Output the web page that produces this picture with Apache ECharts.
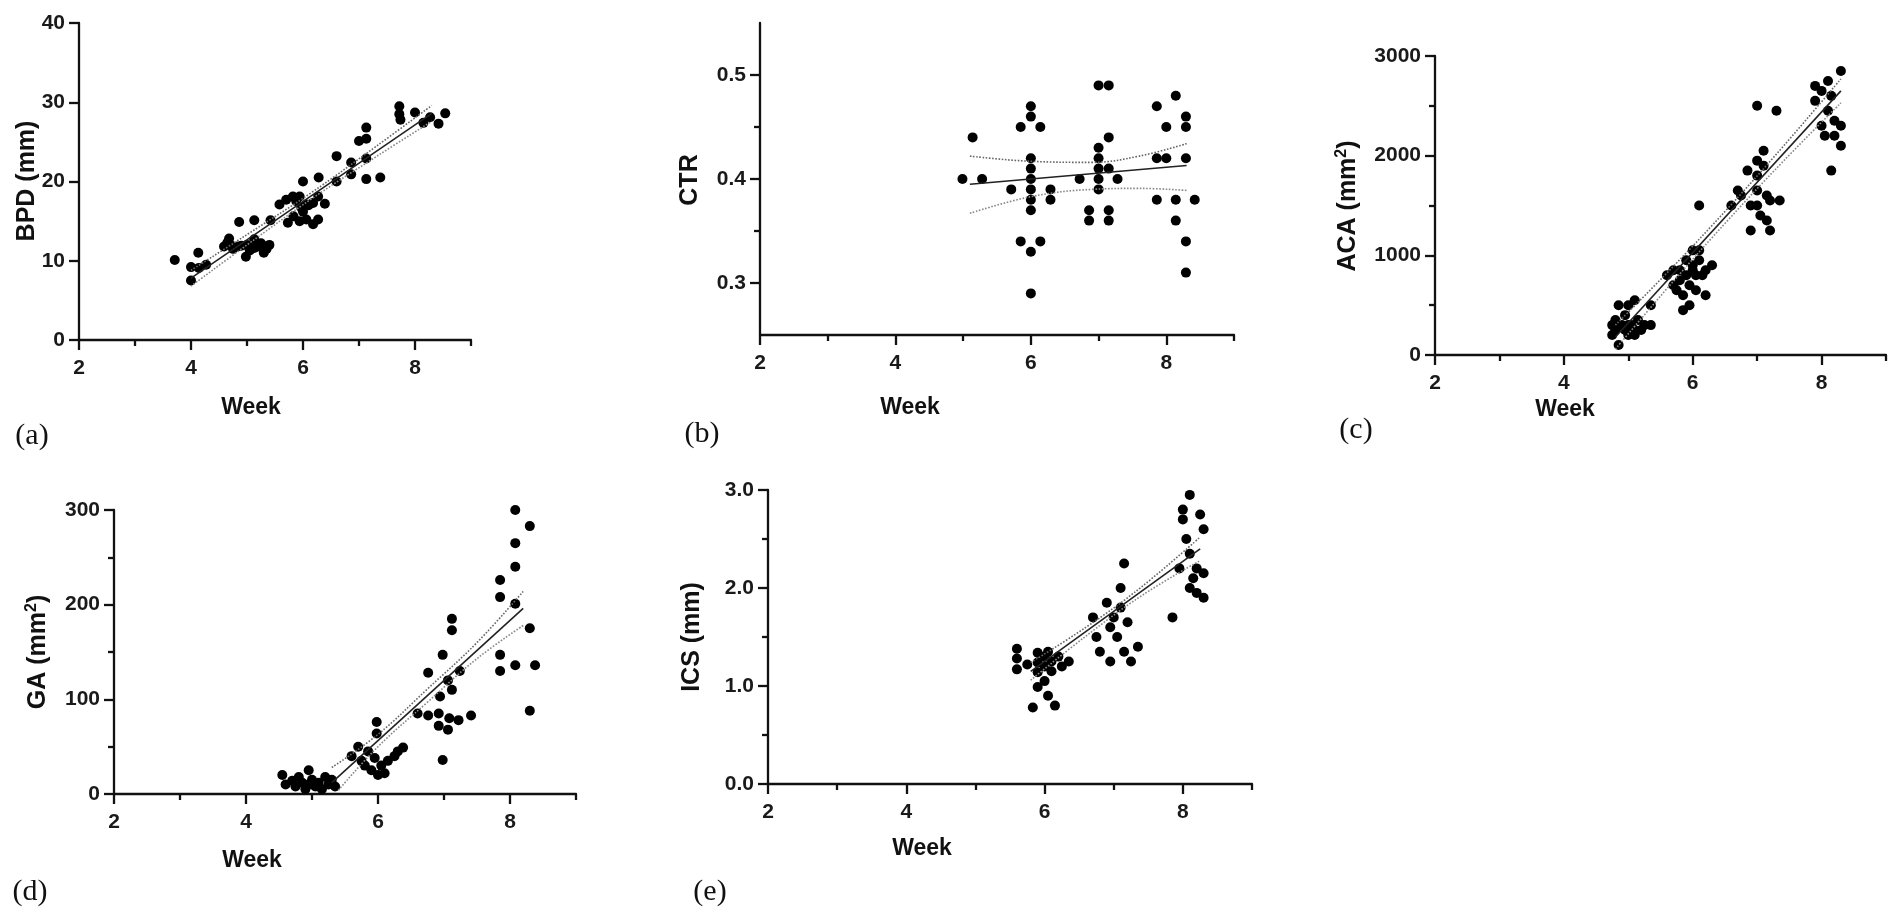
<!DOCTYPE html>
<html><head><meta charset="utf-8">
<script src="https://cdn.jsdelivr.net/npm/echarts@6/dist/echarts.min.js"></script>
<style>html,body{margin:0;padding:0;background:#fff}#c{width:1902px;height:920px}</style>
</head><body><div id="c"></div>
<script>
// ---------- DATA ----------
const weekTicks = [2, 4, 6, 8];
const weekMinorTicks = [3, 5, 7, 9];

// (a) BPD (mm)
const bpdPoints = [[3.71,10.1],[4.0,7.5],[4.0,9.2],[4.13,11.0],[4.14,9.1],[4.27,9.5],[4.59,11.8],[4.65,12.3],[4.68,12.8],[4.7,12.0],[4.75,11.5],[4.83,11.8],[4.86,14.9],[4.9,11.9],[4.98,10.5],[5.0,12.0],[5.05,11.3],[5.08,11.9],[5.13,15.1],[5.13,12.7],[5.13,11.6],[5.2,11.8],[5.25,12.2],[5.3,11.0],[5.35,11.5],[5.4,12.0],[5.42,15.1],[5.58,17.1],[5.7,17.7],[5.73,14.8],[5.82,18.1],[5.83,15.6],[5.88,17.5],[5.94,18.1],[5.97,16.7],[6.0,20.0],[6.0,16.2],[5.94,15.0],[6.06,17.1],[6.06,15.2],[6.1,17.0],[6.18,17.3],[6.18,14.6],[6.27,18.1],[6.28,20.5],[6.27,15.2],[6.39,17.2],[6.6,23.2],[6.6,20.0],[6.86,22.4],[6.86,20.9],[7.0,25.1],[7.13,26.8],[7.13,25.4],[7.13,22.9],[7.13,20.3],[7.38,20.5],[7.72,28.5],[7.72,29.5],[7.74,27.8],[8.0,28.7],[8.15,27.4],[8.27,28.1],[8.42,27.3],[8.54,28.6]];
const bpdFit = [[4.0,7.8],[8.3,28.6]];
const bpdUpper = [[4.0,8.8],[5.0,13.3],[6.15,18.6],[7.3,24.4],[8.3,29.6]];
const bpdLower = [[4.0,6.8],[5.0,12.0],[6.15,17.8],[7.3,23.1],[8.3,27.6]];

// (b) CTR
const ctrPoints = [[4.99,0.40],[5.14,0.44],[5.28,0.40],[5.71,0.39],[5.85,0.45],[6.0,0.47],[6.0,0.46],[6.14,0.45],[6.0,0.42],[6.0,0.41],[6.0,0.40],[6.0,0.39],[6.0,0.38],[6.0,0.37],[6.29,0.39],[6.29,0.38],[5.85,0.34],[6.14,0.34],[6.0,0.33],[6.0,0.29],[6.72,0.40],[6.86,0.37],[6.86,0.36],[7.0,0.49],[7.15,0.49],[7.15,0.44],[7.0,0.43],[7.0,0.42],[7.0,0.41],[7.15,0.41],[7.0,0.40],[7.28,0.40],[7.0,0.39],[7.15,0.37],[7.15,0.36],[7.86,0.47],[8.14,0.48],[8.29,0.46],[8.29,0.45],[8.0,0.45],[7.86,0.42],[8.0,0.42],[8.29,0.42],[7.86,0.38],[8.14,0.38],[8.42,0.38],[8.14,0.36],[8.29,0.34],[8.29,0.31]];
const ctrFit = [[5.1,0.395],[8.3,0.413]];
const ctrUpper = [[5.1,0.422],[6.0,0.417],[6.9,0.416],[7.6,0.422],[8.3,0.434]];
const ctrLower = [[5.1,0.367],[6.0,0.383],[6.9,0.390],[7.6,0.391],[8.3,0.389]];

// (c) ACA (mm2)
const acaPoints = [[4.75,300],[4.75,200],[4.8,350],[4.8,250],[4.85,100],[4.85,500],[4.9,300],[4.95,250],[4.95,400],[5.0,300],[5.0,200],[5.0,500],[5.05,300],[5.1,250],[5.1,550],[5.1,200],[5.15,350],[5.2,250],[5.25,300],[5.35,300],[5.35,500],[5.6,800],[5.7,850],[5.7,700],[5.75,650],[5.8,850],[5.8,750],[5.85,600],[5.85,450],[5.9,950],[5.9,800],[5.95,700],[5.95,500],[6.0,1050],[6.0,900],[6.0,850],[6.05,800],[6.05,650],[6.1,1500],[6.1,1050],[6.1,950],[6.15,800],[6.2,850],[6.2,600],[6.3,900],[6.6,1500],[6.7,1650],[6.75,1600],[6.85,1850],[6.9,1500],[6.9,1250],[7.0,2500],[7.0,1950],[7.0,1800],[7.0,1650],[7.0,1500],[7.05,1400],[7.1,2050],[7.1,1900],[7.15,1600],[7.15,1350],[7.2,1550],[7.2,1250],[7.3,2450],[7.35,1550],[7.9,2700],[7.9,2550],[8.0,2650],[8.0,2300],[8.05,2200],[8.1,2750],[8.1,2450],[8.15,2600],[8.15,1850],[8.2,2350],[8.2,2200],[8.3,2850],[8.3,2300],[8.3,2100]];
const acaFit = [[4.8,180],[8.3,2650]];
const acaUpper = [[4.8,300],[5.7,890],[6.55,1475],[7.4,2090],[8.3,2770]];
const acaLower = [[4.8,60],[5.7,740],[6.55,1355],[7.4,1940],[8.3,2530]];

// (d) GA (mm2)
const gaPoints = [[4.55,20],[4.6,10],[4.7,14],[4.75,8],[4.8,18],[4.85,12],[4.9,5],[4.95,25],[4.95,10],[5.0,15],[5.05,8],[5.1,12],[5.15,5],[5.2,18],[5.25,10],[5.3,15],[5.35,8],[5.6,40],[5.7,50],[5.75,35],[5.8,30],[5.85,45],[5.9,25],[5.98,76],[5.98,64],[5.95,38],[6.0,20],[6.05,30],[6.1,22],[6.15,35],[6.25,40],[6.3,45],[6.38,49],[6.6,85],[6.76,128],[6.76,83],[6.92,85],[6.92,72],[6.94,103],[6.98,147],[6.98,36],[7.06,120],[7.06,68],[7.08,80],[7.12,110],[7.12,185],[7.12,173],[7.22,78],[7.24,130],[7.41,83],[7.85,226],[7.85,208],[7.85,147],[7.85,130],[8.08,300],[8.08,265],[8.08,240],[8.08,201],[8.08,136],[8.3,283],[8.3,175],[8.3,88],[8.38,136]];
const gaFit = [[5.3,12],[8.2,196]];
const gaUpper = [[5.3,28],[6.0,63],[6.75,111],[7.5,160],[8.2,214]];
const gaLower = [[5.4,4],[6.0,50],[6.75,97],[7.5,143],[8.2,178]];

// (e) ICS (mm)
const icsPoints = [[5.6,1.38],[5.6,1.28],[5.6,1.17],[5.75,1.22],[5.83,0.78],[5.9,1.34],[5.9,1.24],[5.9,1.14],[5.9,0.99],[6.0,1.3],[6.0,1.2],[6.0,1.05],[6.05,0.9],[6.05,1.35],[6.1,1.25],[6.1,1.15],[6.15,0.8],[6.2,1.3],[6.25,1.2],[6.35,1.25],[6.7,1.7],[6.75,1.5],[6.8,1.35],[6.9,1.85],[6.95,1.6],[6.95,1.25],[7.0,1.7],[7.05,1.5],[7.1,2.0],[7.1,1.8],[7.15,2.25],[7.15,1.35],[7.2,1.65],[7.25,1.25],[7.35,1.4],[7.85,1.7],[7.95,2.2],[8.0,2.8],[8.0,2.7],[8.05,2.5],[8.1,2.95],[8.1,2.35],[8.1,2.0],[8.15,2.1],[8.2,2.2],[8.2,1.95],[8.25,2.75],[8.3,2.6],[8.3,2.15],[8.3,1.9]];
const icsFit = [[5.8,1.15],[8.25,2.4]];
const icsUpper = [[5.8,1.24],[6.6,1.6],[7.4,2.01],[8.25,2.52]];
const icsLower = [[5.8,1.06],[6.6,1.51],[7.4,1.92],[8.25,2.28]];

// tick labels
const bpdTicks = [0, 10, 20, 30, 40];
const ctrTicks = [0.3, 0.4, 0.5];
const ctrMinor = [0.35, 0.45];
const acaTicks = [0, 1000, 2000, 3000];
const acaMinor = [500, 1500, 2500];
const gaTicks = [0, 100, 200, 300];
const gaMinor = [50, 150, 250];
const icsTicks = [0, 1, 2, 3];
const icsMinor = [0.5, 1.5, 2.5];

// axis titles (rich text: {s|..} = superscript)
const yTitles = ['BPD (mm)', 'CTR', 'ACA (mm{s|2}{n|)}', 'GA (mm{s|2}{n|)}', 'ICS (mm)'];
const tags = ['(a)', '(b)', '(c)', '(d)', '(e)'];

// ---------- LAYOUT ----------
const panels = [
  {grid:{left:79,top:23,width:392,height:317}, yMin:0, yMax:40, major:bpdTicks, minor:[], dec:0,
   pts:bpdPoints, fit:bpdFit, up:bpdUpper, lo:bpdLower, yNamePos:[27,181], weekPos:[251,408], tagPos:[32,436]},
  {grid:{left:760,top:23,width:474,height:312}, yMin:0.25, yMax:0.55, major:ctrTicks, minor:ctrMinor, dec:1,
   pts:ctrPoints, fit:ctrFit, up:ctrUpper, lo:ctrLower, yNamePos:[690,180], weekPos:[910,408], tagPos:[702,434]},
  {grid:{left:1435,top:56,width:451,height:299}, yMin:0, yMax:3000, major:acaTicks, minor:acaMinor, dec:0,
   pts:acaPoints, fit:acaFit, up:acaUpper, lo:acaLower, yNamePos:[1348,206], weekPos:[1565,410], tagPos:[1356,430]},
  {grid:{left:114,top:510,width:462,height:284}, yMin:0, yMax:300, major:gaTicks, minor:gaMinor, dec:0,
   pts:gaPoints, fit:gaFit, up:gaUpper, lo:gaLower, yNamePos:[38,652], weekPos:[252,861], tagPos:[30,892]},
  {grid:{left:768,top:490,width:484,height:294}, yMin:0, yMax:3, major:icsTicks, minor:icsMinor, dec:1,
   pts:icsPoints, fit:icsFit, up:icsUpper, lo:icsLower, yNamePos:[692,637], weekPos:[922,849], tagPos:[710,892]}
];

const INK = '#111';
const FONT = '"Liberation Sans", Arial, sans-serif';
const tickLabel = {fontSize:21, fontWeight:'bold', color:'#1a1a1a', fontFamily:FONT};

const grid = [], xAxis = [], yAxis = [], series = [], graphic = [];
panels.forEach((p, i) => {
  grid.push(Object.assign({containLabel:false}, p.grid));
  xAxis.push({gridIndex:i, type:'value', min:2, max:9, position:'bottom',
    axisLine:{show:true, onZero:false, lineStyle:{color:INK, width:2.3}},
    axisTick:{show:true, customValues:weekTicks, length:10, lineStyle:{color:INK, width:2.3}},
    axisLabel:Object.assign({customValues:weekTicks, margin:18}, tickLabel),
    splitLine:{show:false}});
  xAxis.push({gridIndex:i, type:'value', min:2, max:9, position:'bottom', offset:0,
    axisLine:{show:false}, axisLabel:{show:false}, splitLine:{show:false},
    axisTick:{show:true, customValues:weekMinorTicks, length:6, lineStyle:{color:INK, width:2.3}}});
  yAxis.push({gridIndex:i, type:'value', min:p.yMin, max:p.yMax, position:'left',
    axisLine:{show:true, onZero:false, lineStyle:{color:INK, width:2.3}},
    axisTick:{show:true, customValues:p.major, length:10, lineStyle:{color:INK, width:2.3}},
    axisLabel:Object.assign({customValues:p.major, margin:14, formatter:(v)=>Number(v).toFixed(p.dec)}, tickLabel),
    splitLine:{show:false}});
  yAxis.push({gridIndex:i, type:'value', min:p.yMin, max:p.yMax, position:'left', offset:0,
    axisLine:{show:false}, axisLabel:{show:false}, splitLine:{show:false},
    axisTick:{show:p.minor.length>0, customValues:p.minor.length?p.minor:[p.yMin], length:6, lineStyle:{color:INK, width:2.3}}});
  const xi = 2*i, yi = 2*i;
  series.push({type:'scatter', xAxisIndex:xi, yAxisIndex:yi, data:p.pts, symbol:'circle', symbolSize:10,
    itemStyle:{color:'#000', opacity:1}, z:2});
  series.push({type:'line', xAxisIndex:xi, yAxisIndex:yi, data:p.fit, showSymbol:false, symbol:'none',
    lineStyle:{color:'#222', width:1.6, type:'solid'}, z:3});
  series.push({type:'line', xAxisIndex:xi, yAxisIndex:yi, data:p.up, showSymbol:false, symbol:'none', smooth:0.4,
    lineStyle:{color:'#666', width:1.6, type:'dotted'}, z:3});
  series.push({type:'line', xAxisIndex:xi, yAxisIndex:yi, data:p.lo, showSymbol:false, symbol:'none', smooth:0.4,
    lineStyle:{color:'#888', width:1.6, type:'dotted'}, z:3});

  graphic.push({type:'text', x:p.yNamePos[0], y:p.yNamePos[1], rotation:Math.PI/2,
    style:{text:'{n|' + yTitles[i].replace(/^([^{]*)/, '$1}').replace(/^(.*?)\}(\{|$)/, '$1}$2') , fill:INK, align:'center', verticalAlign:'middle',
      rich:{n:{fontSize:25, fontWeight:'bold', fontFamily:FONT, fill:INK, lineHeight:28},
            s:{fontSize:16, fontWeight:'bold', fontFamily:FONT, fill:INK, verticalAlign:'top', lineHeight:28, padding:[0,0,10,0]}}}});
  graphic.push({type:'text', x:p.weekPos[0], y:p.weekPos[1],
    style:{text:'Week', fontSize:23, fontWeight:'bold', fontFamily:FONT, fill:INK, align:'center', verticalAlign:'middle'}});
  graphic.push({type:'text', x:p.tagPos[0], y:p.tagPos[1],
    style:{text:tags[i], fontSize:30, fontFamily:'"Liberation Serif", "Times New Roman", serif', fill:INK, align:'center', verticalAlign:'middle'}});
});

const chart = echarts.init(document.getElementById('c'), null, {renderer:'canvas'});
chart.setOption({animation:false, backgroundColor:'#fff', grid, xAxis, yAxis, series, graphic});
</script></body></html>
